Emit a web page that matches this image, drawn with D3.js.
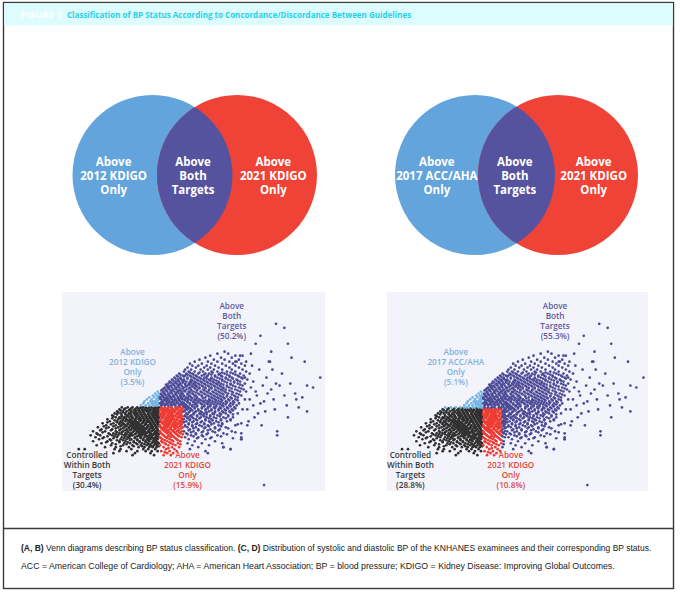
<!DOCTYPE html>
<html><head><meta charset="utf-8">
<script src="https://cdn.jsdelivr.net/npm/d3@7/dist/d3.min.js"></script>
<style>body{margin:0;background:#fff}svg{display:block}</style>
</head><body><svg id="fig" width="680" height="594"></svg>
<script>
// ---------- text ----------
const figureLabel = "FIGURE 1";
const titleText = "Classification of BP Status According to Concordance/Discordance Between Guidelines";
const captionLine1 = [["(A, B)", true], [" Venn diagrams describing BP status classification. ", false], ["(C, D)", true], [" Distribution of systolic and diastolic BP of the KNHANES examinees and their corresponding BP status.", false]];
const captionLine2 = [["ACC = American College of Cardiology; AHA = American Heart Association; BP = blood pressure; KDIGO = Kidney Disease: Improving Global Outcomes.", false]];

// ---------- Venn regions ----------
const vennA = [["Above", "2012 KDIGO", "Only"], ["Above", "Both", "Targets"], ["Above", "2021 KDIGO", "Only"]];
const vennB = [["Above", "2017 ACC/AHA", "Only"], ["Above", "Both", "Targets"], ["Above", "2021 KDIGO", "Only"]];

// ---------- scatter classification boundaries (SBP, DBP) ----------
const cutC = { sbpLow: 120, sbpHigh: 140, dbp: 90 };
const cutD = { sbpLow: 120, sbpHigh: 136, dbp: 89 };
const groups = ["ctrl", "red", "blue", "both"];
const labelsC = { both: ["Above", "Both", "Targets", "(50.2%)"], blue: ["Above", "2012 KDIGO", "Only", "(3.5%)"], ctrl: ["Controlled", "Within Both", "Targets", "(30.4%)"], red: ["Above", "2021 KDIGO", "Only", "(15.9%)"] };
const labelsD = { both: ["Above", "Both", "Targets", "(55.3%)"], blue: ["Above", "2017 ACC/AHA", "Only", "(5.1%)"], ctrl: ["Controlled", "Within Both", "Targets", "(28.8%)"], red: ["Above", "2021 KDIGO", "Only", "(10.8%)"] };
// label anchors in (SBP, DBP) units
const labelAnchor = { both: [180, 140], blue: [97, 117], ctrl: [59, 65], red: [143, 65] };

// ---------- examinee points [DBP, [SBP...]] ----------
const rowsControlled = [
 [89,[88,93,97,101,104,106,108,111,113,116,118,119]],
 [88,[86,90,95,99,102,105,107,110,112,115,117,119]],
 [87,[84,89,92,96,100,103,106,109,111,114,116,118]],
 [86,[82,87,91,94,98,101,104,107,110,113,115,117,119]],
 [85,[80,88,93,96,99,102,105,108,111,114,116,118]],
 [84,[83,86,90,94,97,100,103,106,109,112,115,117,119]],
 [83,[76,85,89,92,95,99,102,104,107,110,113,116,118]],
 [82,[78,84,87,91,94,97,100,103,106,109,111,114,117,119]],
 [81,[72,81,86,89,93,96,99,102,105,108,112,115,118]],
 [80,[75,83,88,91,95,98,101,104,107,110,113,116,119]],
 [79,[68,77,85,90,94,97,100,103,106,109,112,114,117]],
 [78,[71,80,87,92,96,99,102,105,108,111,115,118]],
 [77,[64,74,83,89,93,98,101,104,107,110,113,116,119]],
 [76,[67,77,81,86,91,95,100,103,106,109,112,115,118]],
 [75,[62,70,80,85,90,94,97,102,105,108,111,114,117]],
 [74,[66,73,84,88,93,99,104,107,110,113,116,119]],
 [73,[69,78,87,92,96,101,106,109,112,115,118]],
 [72,[64,76,86,91,98,103,108,111,114,117]],
 [71,[71,80,90,95,100,105,110,113,116,119]],
 [70,[67,79,89,97,104,109,112,115,118]],
 [69,[74,83,94,102,107,111,114,117]],
 [68,[52,57,82,87,96,106,110,116]],
 [67,[86,92,101,108,113,118]],
 [66,[81,99,112]],
 [65,[97,115]],
 [88.5,[91,96,100,103,109,114,117]],
 [87.5,[87,94,98,102,105,108,112,115,119]],
 [86.5,[85,89,96,99,103,106,111,116,118]],
 [85.5,[84,91,95,100,104,107,110,113,117,119]],
 [84.5,[81,88,92,96,101,105,108,111,114,118]],
 [83.5,[80,87,91,97,100,103,106,109,112,115,119]],
 [82.5,[82,89,93,96,99,104,107,110,113,116,118]],
 [81.5,[76,84,88,95,98,101,106,109,111,114,117,119]],
 [80.5,[79,86,90,93,97,100,103,108,112,115,118]],
 [79.5,[73,81,87,92,96,99,102,105,110,113,116,119]],
 [78.5,[75,83,89,94,98,101,104,107,109,113,117]],
 [77.5,[70,79,86,91,95,100,103,106,111,114,118]],
 [76.5,[72,84,88,93,97,102,105,108,111,117]],
 [75.5,[68,78,83,88,92,96,99,104,107,113,116,119]],
 [74.5,[76,82,91,95,101,103,109,112,118]],
 [73.5,[72,81,90,94,99,104,111,114,117]],
 [72.5,[79,84,89,95,101,106,110,116]],
 [71.5,[75,86,93,98,103,108,115,118]],
 [70.5,[83,92,101,107,111,117]],
 [69.5,[87,98,105,113,119]]
];
const rowsSbpBand = [
 [89,[121,124,127,129,133,135,137]],
 [88,[120,123,125,127,131,133,135,138]],
 [87,[122,125,128,130,132,136,139]],
 [86,[120,122,124,127,130,134,137]],
 [85,[121,123,126,129,131,133,138]],
 [84,[122,125,128,131,135,137]],
 [83,[120,124,127,130,132,134,139]],
 [82,[121,123,126,129,132,136,138]],
 [81,[122,125,128,131,134,137]],
 [80,[120,124,127,130,133,137]],
 [79,[121,123,126,129,132,135,139]],
 [78,[122,125,128,132,136]],
 [77,[120,124,127,131,134,138]],
 [76,[121,126,129,133,137]],
 [75,[123,127,130,135]],
 [74,[120,125,129,132,138]],
 [73,[122,128,134]],
 [72,[121,126,131,137]],
 [71,[124,129,135]],
 [70,[120,127,133]],
 [69,[123,130,136]],
 [68,[125,132]],
 [67,[121,128,134]],
 [66,[126,131]],
 [65,[123,129]],
 [88.5,[122,126,130,134,139]],
 [87.5,[121,124,127,129,133,137]],
 [86.5,[123,126,129,132,135,138]],
 [85.5,[120,124,128,130,135,137]],
 [84.5,[121,123,127,130,133,136,139]],
 [83.5,[122,126,129,131,135,138]],
 [82.5,[120,125,128,130,134,137]],
 [81.5,[121,124,127,129,133,136,139]],
 [80.5,[123,126,128,132,135,138]],
 [79.5,[120,125,127,131,134,137]],
 [78.5,[121,124,129,133,138]],
 [77.5,[123,126,130,135]],
 [76.5,[120,125,128,132,136]],
 [75.5,[122,129,134,139]],
 [74.5,[124,127,131,136]],
 [73.5,[121,126,133]],
 [72.5,[124,130,135]],
 [71.5,[122,128]],
 [70.5,[125,131,137]],
 [68.5,[127]],
 [66.5,[124]]
];
const rowsDiastolicOnly = [
 [90,[104,108,111,114,116,118]],
 [91,[106,110,113,115,117,119]],
 [92,[107,112,114,116,118]],
 [93,[109,113,117,119]],
 [94,[111,115,118]],
 [95,[114,117,119]],
 [96,[116,119]],
 [97,[118]]
];
const rowsHigh = [
 [90,[121,124,127,130,133,136,139,142,147,151,157,162,167,172,178,184]],
 [91,[120,123,126,129,132,135,138,140,145,150,154,159,163,168,173,179,186]],
 [92,[122,125,128,131,134,137,143,148,152,156,160,164,169,175,181]],
 [93,[121,124,127,130,133,136,139,141,144,149,153,161,166,171,177,183,191]],
 [94,[120,123,126,129,132,135,138,142,146,151,158,163,168,173,179,185]],
 [95,[122,125,128,131,134,137,140,145,150,155,160,165,170,176,182,188]],
 [96,[121,124,127,130,133,136,139,143,147,152,157,162,167,172,177,184]],
 [97,[123,126,129,132,135,138,141,144,148,154,159,164,169,174,180,187]],
 [98,[122,125,128,131,134,137,142,146,151,156,161,166,171,175,183,190]],
 [99,[124,127,130,133,136,139,140,145,149,153,158,163,168,173,178,186]],
 [100,[126,129,132,135,138,143,147,150,155,160,165,170,176,181,189]],
 [101,[127,131,134,137,141,144,148,152,157,162,167,171,179,185,191]],
 [102,[128,133,136,139,142,145,149,154,159,164,169,174,182,187]],
 [103,[130,135,138,140,146,151,156,161,165,172,177,184,193]],
 [104,[132,137,143,148,153,157,163,168,175,180,188]],
 [105,[134,139,141,145,150,155,160,166,171,178,185,190]],
 [106,[136,142,147,152,158,161,170,174,181,187]],
 [107,[140,144,149,156,163,168,176,183,192]],
 [108,[141,146,154,160,165,172,180,189]],
 [109,[143,150,157,162,169,178,186]],
 [110,[147,152,159,166,175,183,191]],
 [111,[145,155,163,172,181,188]],
 [112,[149,160,168,178,184]],
 [113,[153,165,174,186]],
 [114,[158,171,180]],
 [115,[162,183,189]],
 [116,[168,177]],
 [89,[141,144,149,155,160,165,170,176,182]],
 [88,[143,146,152,158,163,169,174,180,189]],
 [87,[140,145,150,154,161,166,172,178]],
 [86,[142,148,153,157,164,170,175,185]],
 [85,[141,146,151,156,162,168,177]],
 [84,[143,147,154,159,165,173,181]],
 [83,[140,145,150,158,163,171,179]],
 [82,[142,148,155,161,167,176]],
 [81,[144,151,157,165,172,188]],
 [80,[141,147,153,160,169,183]],
 [79,[143,150,158,166,175]],
 [78,[145,152,162,170]],
 [77,[140,148,156,164,180]],
 [76,[142,150,160,173]],
 [75,[146,155,168]],
 [74,[141,152,163,188]],
 [73,[144,158,188]],
 [72,[149,166]],
 [71,[143,155,172]],
 [70,[147,161]],
 [69,[152,173]],
 [68,[145,179]],
 [67,[158]],
 [66,[160]],
 [106.5,[145,153,164,172,179]],
 [105.5,[137,143,148,157,163,169,176,183]],
 [104.5,[135,140,146,151,159,166,172,178,186]],
 [103.5,[133,137,143,149,154,159,163,170,175,181,189]],
 [102.5,[131,135,140,147,152,157,162,167,172,179,185]],
 [101.5,[129,133,139,146,150,155,160,165,169,176,182]],
 [100.5,[125,131,136,141,145,149,153,158,163,168,173,179,187]],
 [99.5,[126,128,135,142,147,151,156,161,166,171,176,183]],
 [98.5,[123,127,133,139,144,149,153,158,163,169,173,180,188]],
 [97.5,[121,125,130,136,140,146,151,157,161,167,172,178,185]],
 [96.5,[123,129,134,138,145,150,155,160,165,170,175,181]],
 [95.5,[121,124,127,133,138,143,148,153,158,163,168,173,180,186]],
 [94.5,[122,128,131,137,140,144,149,155,161,166,171,176,183]],
 [93.5,[120,125,129,135,138,143,147,151,156,164,169,174,180]],
 [92.5,[123,126,132,136,141,146,150,154,158,162,167,172,178,185]],
 [91.5,[121,127,130,134,139,143,148,152,157,161,166,171,176,182]],
 [90.5,[122,125,129,132,137,141,145,149,155,160,165,170,175,181]],
 [89.5,[140,143,147,151,157,162,167,173,179]],
 [88.5,[142,145,149,155,160,166,171,177,183]],
 [87.5,[141,147,152,158,163,169,175,181]],
 [86.5,[144,149,155,159,166,173,179]],
 [85.5,[143,148,154,159,165,171,181]],
 [84.5,[141,145,151,157,162,170,177]],
 [83.5,[143,148,153,161,167,175]],
 [82.5,[145,151,158,164,171,179]],
 [81.5,[140,147,154,162,169]],
 [80.5,[144,150,157,163,172,185]],
 [79.5,[141,147,155,161,171]],
 [78.5,[148,157,166,177]],
 [77.5,[144,152,160,169]],
 [76.5,[146,155,166,183]],
 [75.5,[143,150,159,176]],
 [74.5,[148,156,171]],
 [73.5,[151,162,181]]
];
const scatteredHigh = [[192,112],[195,106],[197,110],[199,84],[193,80],[194,82],[196,99],[198,102],[201,95],[203,108],[204,91],[206,100],[208,87],[209,104],[210,96],[212,112],[213,98],[215,93],[217,101],[218,77],[218,75],[220,100],[222,106],[224,95],[226,90],[227,84],[229,101],[230,114],[234,93],[236,89],[193,88],[195,93],[200,97],[202,86],[205,80],[191,104],[196,116],[200,121],[187,115],[183,112],[211,112],[214,108],[188,76],[188,73],[179,68],[173,69],[216,88],[207,92],[198,90],[192,97],
 [217,131],[224,129],[204,125],[227,121],[213,117],[174,117],[241,112],[254,104],[243,100],[248,99],[243,87],[207,50],[233,96],[239,94]];

// ---------- colours ----------
const vennColors = { left: "#63a4dc", right: "#ef4337", both: "#5553a0" };
const dotColors = { ctrl: "#2e2e2e", red: "#ee3a31", blue: "#74b3e3", both: "#4b4996" };
const labelColors = { ctrl: "#3a3a3a", red: "#e2473c", blue: "#82b2d9", both: "#5e5b9b" };

// ---------- build point list ----------
const bpPoints = [];
[rowsControlled, rowsSbpBand, rowsDiastolicOnly, rowsHigh].forEach(rows =>
  rows.forEach(([d, list]) => list.forEach(s => bpPoints.push([s, d]))));
scatteredHigh.forEach(p => bpPoints.push(p));

function classify(p, cut) {
  const [s, d] = p;
  if (s < cut.sbpLow) return d < cut.dbp ? "ctrl" : "blue";
  if (s < cut.sbpHigh && d < cut.dbp) return "red";
  return "both";
}

const svg = d3.select("#fig");
const sans = "'Open Sans', 'DejaVu Sans', sans-serif";

// fit a text element to a target width by adjusting its font size
function fitWidth(t, target) {
  const fs = parseFloat(t.attr("font-size"));
  const w = t.node().getComputedTextLength();
  if (w > 0) t.attr("font-size", (fs * target / w).toFixed(2));
}

// ---------- frame, title bar ----------
svg.append("rect").attr("x", 3.5).attr("y", 2.5).attr("width", 670).attr("height", 586)
  .attr("fill", "#fff").attr("stroke", "#3a3a3a").attr("stroke-width", 1.4);
svg.append("rect").attr("x", 4.2).attr("y", 3.2).attr("width", 668.6).attr("height", 22)
  .attr("fill", "#dcfcfd");
const figT = svg.append("text").attr("x", 20).attr("y", 15).attr("dy", "0.35em")
  .attr("font-family", sans).attr("font-weight", 700).attr("font-size", 8.5)
  .attr("fill", "#ffffff").text(figureLabel);
fitWidth(figT, 42);
const titT = svg.append("text").attr("x", 67).attr("y", 15).attr("dy", "0.35em")
  .attr("font-family", sans).attr("font-weight", 700).attr("font-size", 9)
  .attr("fill", "#29d0ea").text(titleText);
fitWidth(titT, 345);

// ---------- Venn diagrams ----------
function venn(id, labels, cxLeft, cxRight) {
  const x = d3.scaleLinear().domain([0, 1]).range([cxLeft, cxRight]);
  const cy = 175, r = 80;
  const g = svg.append("g");
  g.append("clipPath").attr("id", id).append("circle").attr("cx", x(0)).attr("cy", cy).attr("r", r);
  g.append("circle").attr("cx", x(0)).attr("cy", cy).attr("r", r).attr("fill", vennColors.left);
  g.append("circle").attr("cx", x(1)).attr("cy", cy).attr("r", r).attr("fill", vennColors.right);
  g.append("circle").attr("cx", x(1)).attr("cy", cy).attr("r", r).attr("fill", vennColors.both)
    .attr("clip-path", `url(#${id})`);
  const pos = [-0.46, 0.48, 1.43];
  labels.forEach((lines, i) => {
    const t = g.append("text").attr("text-anchor", "middle").attr("font-family", sans)
      .attr("font-weight", 700).attr("font-size", 11.5).attr("fill", "#fff");
    lines.forEach((ln, j) => t.append("tspan").attr("x", x(pos[i])).attr("y", 162 + j * 14)
      .attr("dy", "0.35em").text(ln));
  });
}
venn("clipA", vennA, 152.5, 237);
venn("clipB", vennB, 475, 558);

// ---------- scatter panels ----------
const sbpDomain = [38, 258], dbpDomain = [47, 147];
function scatter(panelX, panelW, rangeStart, cut, labels) {
  const x = d3.scaleLinear().domain(sbpDomain).range([rangeStart, rangeStart + 263]);
  const y = d3.scaleLinear().domain(dbpDomain).range([491, 292]);
  const g = svg.append("g");
  g.append("rect").attr("x", panelX).attr("y", 292).attr("width", panelW).attr("height", 199)
    .attr("fill", "#f3f3fb");
  const classed = bpPoints.map(p => ({ p, k: classify(p, cut) }));
  groups.forEach(k => {
    g.append("g").selectAll("circle").data(classed.filter(o => o.k === k)).join("circle")
      .attr("cx", o => x(o.p[0])).attr("cy", o => y(o.p[1])).attr("r", 1.35)
      .attr("fill", dotColors[k]);
  });
  groups.forEach(k => {
    const [s, d] = labelAnchor[k];
    const t = g.append("text").attr("text-anchor", "middle").attr("font-family", sans)
      .attr("font-weight", 600).attr("font-size", 8.2).attr("fill", labelColors[k]);
    labels[k].forEach((ln, j) => t.append("tspan").attr("x", x(s)).attr("y", y(d) + j * 10)
      .attr("dy", "0.35em").text(ln));
  });
}
scatter(62, 263, 62, cutC, labelsC);
scatter(387, 261, 385.3, cutD, labelsD);

// ---------- caption ----------
svg.append("line").attr("x1", 3.5).attr("x2", 673.5).attr("y1", 528.5).attr("y2", 528.5)
  .attr("stroke", "#3a3a3a").attr("stroke-width", 1.4);
function caption(parts, yy, len) {
  const t = svg.append("text").attr("x", 21).attr("y", yy).attr("dy", "0.35em")
    .attr("font-family", "'Liberation Sans Narrow', 'Liberation Sans', sans-serif")
    .attr("font-size", 9.5).attr("fill", "#1a1a1a");
  parts.forEach(([s, b]) => t.append("tspan").attr("font-weight", b ? 700 : 400).text(s));
  fitWidth(t, len);
}
caption(captionLine1, 548, 631);
caption(captionLine2, 566, 594);
</script></body></html>
